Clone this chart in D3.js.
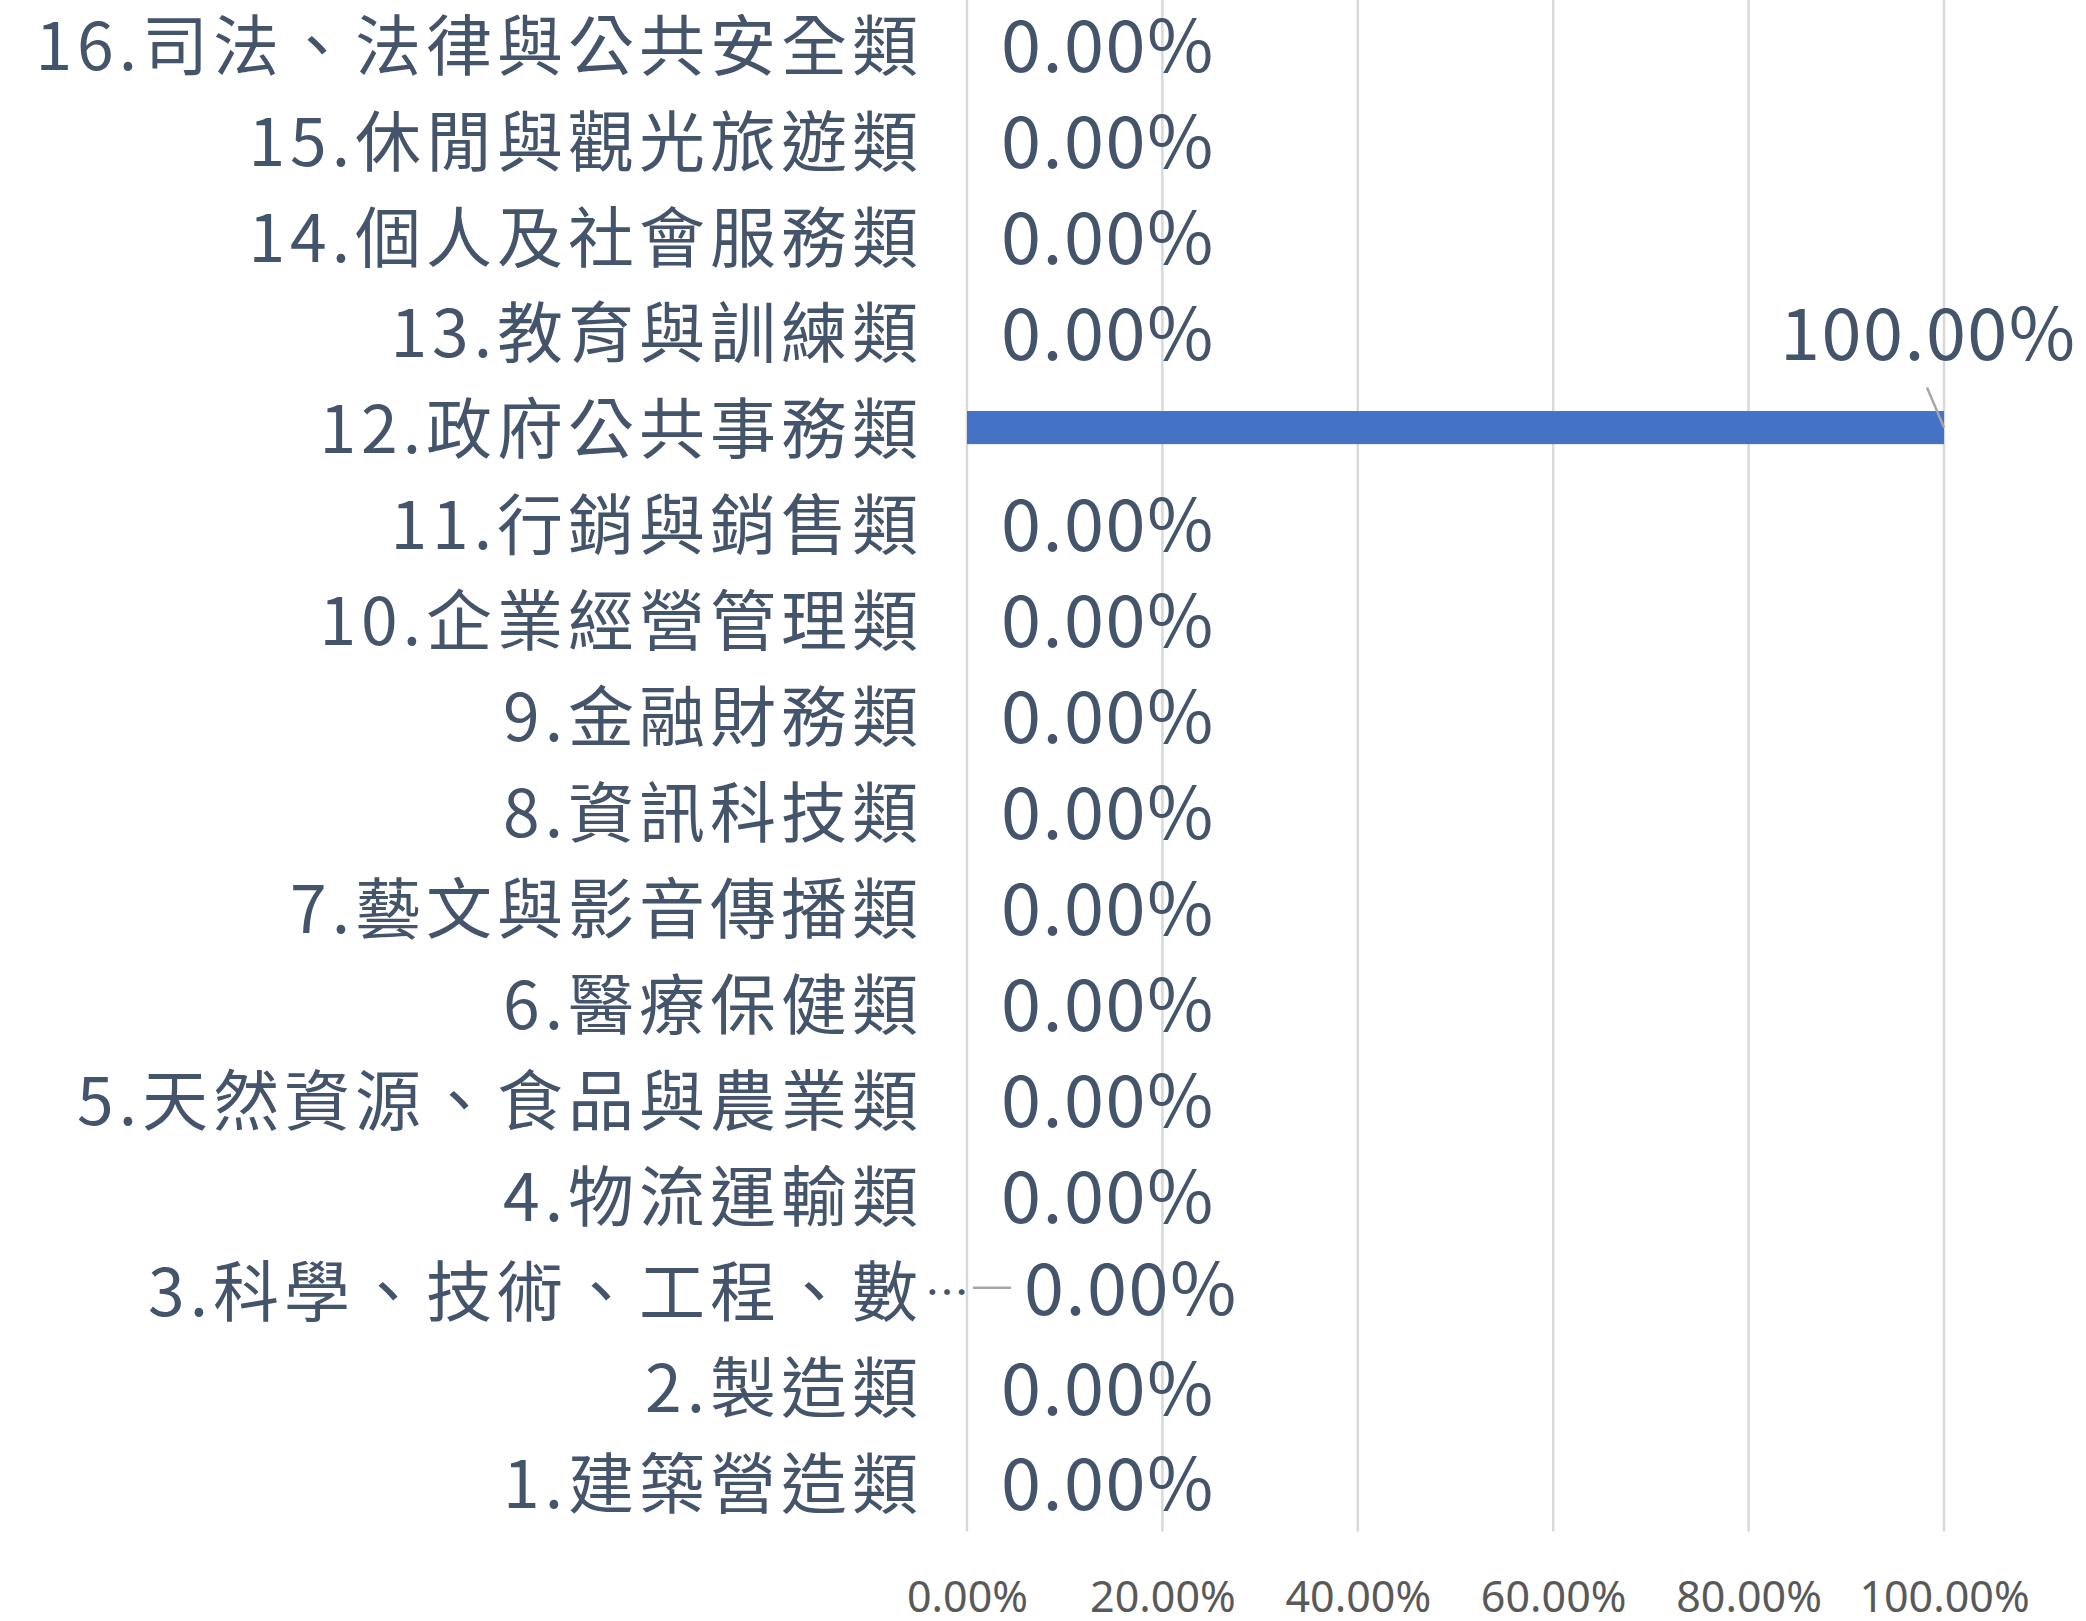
<!DOCTYPE html>
<html>
<head>
<meta charset="utf-8">
<script src="https://cdn.jsdelivr.net/npm/d3@7"></script>
<style>
  html, body { margin: 0; padding: 0; background: #fff; }
  svg { display: block; }
</style>
</head>
<body>
<div id="chart"></div>
<script>
const categories = [
    '1.建築營造類', '2.製造類', '3.科學、技術、工程、數學類', '4.物流運輸類',
    '5.天然資源、食品與農業類', '6.醫療保健類', '7.藝文與影音傳播類', '8.資訊科技類',
    '9.金融財務類', '10.企業經營管理類', '11.行銷與銷售類', '12.政府公共事務類',
    '13.教育與訓練類', '14.個人及社會服務類', '15.休閒與觀光旅遊類', '16.司法、法律與公共安全類'
];
const shares = [0, 0, 0, 0, 0, 0, 0, 0, 0, 0, 0, 1, 0, 0, 0, 0];
const xTicks = [0, 0.2, 0.4, 0.6, 0.8, 1];

const width = 2086;
const height = 1621;
const margin = { top: -4, right: 142, bottom: 90.5, left: 967 };
const textColor = '#44546A';
const cjkFont = '"Noto Sans CJK TC", "Noto Sans", sans-serif';
const maxLabelWidth = 900;

const svg = d3.select('#chart')
    .append('svg')
    .attr('width', width)
    .attr('height', height);

const xScale = d3.scaleLinear()
    .domain([0, 1])
    .range([margin.left, width - margin.right]);

// first category at the bottom, like the spreadsheet
const yScale = d3.scaleBand()
    .domain([...categories].reverse())
    .range([margin.top, height - margin.bottom])
    .paddingInner(0.655)
    .paddingOuter(0.3275);

const step = yScale.step();
const mid = c => yScale(c) + yScale.bandwidth() / 2;
const textMid = c => mid(c) + 2;
const pct = d3.format('.2%');

// gridlines
svg.append('g')
    .selectAll('line')
    .data(xTicks)
    .join('line')
    .attr('x1', d => xScale(d))
    .attr('x2', d => xScale(d))
    .attr('y1', 0)
    .attr('y2', height - margin.bottom + 1)
    .attr('stroke', '#D9D9D9')
    .attr('stroke-width', 2.5);

// bars
svg.append('g')
    .selectAll('rect')
    .data(categories)
    .join('rect')
    .attr('x', xScale(0))
    .attr('y', d => yScale(d))
    .attr('width', (d, i) => xScale(shares[i]) - xScale(0))
    .attr('height', yScale.bandwidth())
    .attr('fill', '#4472C4');

// x axis labels
svg.append('g')
    .attr('transform', `translate(0,${height - margin.bottom})`)
    .call(d3.axisBottom(xScale).tickValues(xTicks).tickFormat(pct).tickSize(0).tickPadding(51))
    .call(g => g.select('.domain').remove())
    .call(g => g.selectAll('text')
        .attr('fill', '#595959')
        .style('font-family', '"Noto Sans", sans-serif')
        .style('font-size', '43px'));

// category labels, too-long ones get cut and an ellipsis past the edge
const labelRight = margin.left - 44;
const cutLabels = new Set();

svg.append('g')
    .selectAll('text')
    .data(categories)
    .join('text')
    .attr('x', labelRight)
    .attr('y', d => textMid(d))
    .attr('dy', '0.36em')
    .attr('text-anchor', 'end')
    .style('font-family', cjkFont)
    .style('font-size', '66px')
    .style('letter-spacing', '5px')
    .attr('fill', textColor)
    .text(d => d)
    .each(function(d) {
        let s = d;
        if (this.getComputedTextLength() <= maxLabelWidth) return;
        cutLabels.add(d);
        while (s.length > 1 && this.getComputedTextLength() > maxLabelWidth - 60) {
            s = s.slice(0, -1);
            this.textContent = s;
        }
        svg.append('text')
            .attr('x', labelRight + 2)
            .attr('y', textMid(d))
            .attr('dy', '0.36em')
            .style('font-family', cjkFont)
            .style('font-size', '44px')
            .attr('fill', textColor)
            .text('…');
    });

// data labels
const labels = svg.append('g')
    .selectAll('text')
    .data(categories)
    .join('text')
    .style('font-family', cjkFont)
    .style('font-size', '72px')
    .style('letter-spacing', '1.5px')
    .attr('fill', textColor)
    .attr('dy', '0.36em')
    .text((d, i) => pct(shares[i]));

labels.each(function(d, i) {
    const t = d3.select(this);
    if (shares[i] === 1) {
        // dragged above the bar end, with a leader line
        t.attr('x', xScale(shares[i]) - 164).attr('y', textMid(d) - step);
        svg.append('line')
            .attr('x1', xScale(shares[i]) - 17).attr('y1', mid(d) - 40)
            .attr('x2', xScale(shares[i])).attr('y2', mid(d))
            .attr('stroke', '#A6A6A6').attr('stroke-width', 2.5);
    } else if (cutLabels.has(d)) {
        // pushed right by its neighbour's ellipsis, with a leader line
        t.attr('x', xScale(0) + 57).attr('y', textMid(d) - 4);
        svg.append('line')
            .attr('x1', xScale(0) + 6).attr('y1', mid(d) - 3)
            .attr('x2', xScale(0) + 44).attr('y2', mid(d) - 3)
            .attr('stroke', '#A6A6A6').attr('stroke-width', 2.5);
    } else {
        t.attr('x', xScale(shares[i]) + 34).attr('y', textMid(d));
    }
});
</script>
</body>
</html>
